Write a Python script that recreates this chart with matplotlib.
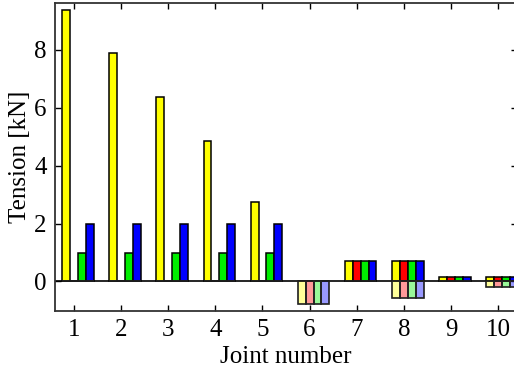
import matplotlib
matplotlib.use('Agg')
import matplotlib.pyplot as plt
import numpy as np

plt.rcParams['font.family'] = 'Liberation Serif'
plt.rcParams['font.size'] = 18

joints = np.arange(1, 11)
# positive tension per series
yellow_pos = [9.36, 7.88, 6.36, 4.85, 2.73, 0, 0.72, 0.72, 0.17, 0.15]
red_pos = [0, 0, 0, 0, 0, 0, 0.72, 0.72, 0.17, 0.15]
green_pos = [1, 1, 1, 1, 1, 0, 0.72, 0.72, 0.17, 0.15]
blue_pos = [2, 2, 2, 2, 2, 0, 0.72, 0.72, 0.17, 0.15]
# negative part (same for all series)
yellow_neg = [0, 0, 0, 0, 0, -0.79, 0, -0.58, 0, -0.2]
red_neg = [0, 0, 0, 0, 0, -0.79, 0, -0.58, 0, -0.2]
green_neg = [0, 0, 0, 0, 0, -0.79, 0, -0.58, 0, -0.2]
blue_neg = [0, 0, 0, 0, 0, -0.79, 0, -0.58, 0, -0.2]

colors = ['#ffff00', '#ff0000', '#00ee00', '#0000ff']
pos = [yellow_pos, red_pos, green_pos, blue_pos]
neg = [yellow_neg, red_neg, green_neg, blue_neg]

fig = plt.figure(figsize=(5.14, 3.77), dpi=100)
ax = fig.add_axes([0.107, 0.175, 0.899, 0.816])

w = 1 / 6
for i in range(4):
    x = joints - 0.25 + i * w
    ax.bar(x, pos[i], width=w, align='edge', color=colors[i],
           edgecolor='black', linewidth=1.1, zorder=3)
    ax.bar(x, neg[i], width=w, align='edge', color=colors[i], alpha=0.4,
           edgecolor='black', linewidth=1.1, zorder=3)
    ax.bar(x, neg[i], width=w, align='edge', fill=False,
           edgecolor='#222222', linewidth=1.1, zorder=4)

ax.axhline(0, color='black', linewidth=1.2, zorder=2)

ax.set_xlim(0.6, 10.4)
ax.set_ylim(-1.02, 9.6)
ax.set_xticks(joints)
ax.set_yticks([0, 2, 4, 6, 8])
ax.tick_params(direction='in', top=True, right=True, length=4, width=1, pad=6)
for s in ax.spines.values():
    s.set_linewidth(1.3)
    s.set_color('#333333')
ax.set_xlabel('Joint number', labelpad=3)
ax.set_ylabel('Tension [kN]', labelpad=2)

fig.savefig('out.png', dpi=100)
